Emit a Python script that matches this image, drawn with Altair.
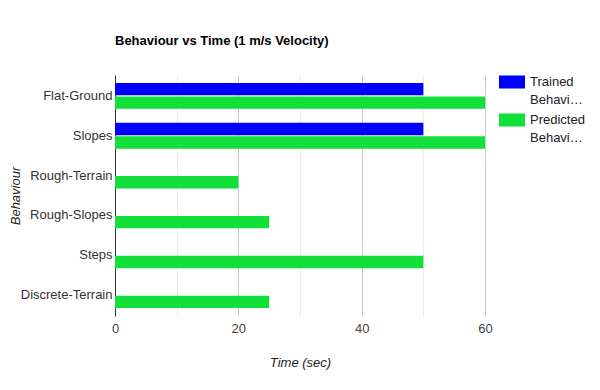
import altair as alt
import pandas as pd

categories = ["Flat-Ground", "Slopes", "Rough-Terrain", "Rough-Slopes", "Steps", "Discrete-Terrain"]
trained = [50, 50, 0, 0, 0, 0]
predicted = [60, 60, 20, 25, 50, 25]
series = ["Trained Behaviour", "Predicted Behaviour"]
colors = ["#0000ff", "#12df3a"]
x_ticks = [0, 10, 20, 30, 40, 50, 60]

rows = []
for c, t, p in zip(categories, trained, predicted):
    rows.append({"Behaviour": c, "Series": series[0], "Time": t})
    rows.append({"Behaviour": c, "Series": series[1], "Time": p})
df = pd.DataFrame(rows)

FONT = "Liberation Sans"

chart = alt.Chart(df).mark_bar().encode(
    x=alt.X(
        "Time:Q",
        scale=alt.Scale(domain=[0, 60], nice=False),
        axis=alt.Axis(
            values=x_ticks,
            title="Time (sec)",
            titleFontStyle="italic",
            titleFontWeight="normal",
            titleFontSize=13,
            titleColor="#222222",
            titleBaseline="middle",
            titleY=46,
            labelFontSize=13,
            labelColor="#444444",
            labelPadding=6,
            labelFlush=False,
            labelExpr="datum.value % 20 === 0 ? datum.label : ''",
            ticks=False,
            tickSize=0,
            domain=False,
            grid=True,
            gridColor={"condition": {"test": "datum.value % 20 === 0", "value": "#cccccc"}, "value": "#ebebeb"},
        ),
    ),
    y=alt.Y(
        "Behaviour:N",
        sort=categories,
        scale=alt.Scale(paddingInner=0.35, paddingOuter=0.2),
        axis=alt.Axis(
            title="Behaviour",
            titleFontStyle="italic",
            titleFontWeight="normal",
            titleFontSize=13,
            titleColor="#222222",
            titleX=-100,
            titleY=120.5,
            titleBaseline="middle",
            labelFontSize=13,
            labelColor="#333333",
            labelPadding=3,
            ticks=False,
            tickSize=0,
            domainColor="#333333",
            grid=False,
        ),
    ),
    yOffset=alt.YOffset("Series:N", sort=series, scale=alt.Scale(paddingInner=0.08)),
    color=alt.Color(
        "Series:N",
        sort=series,
        scale=alt.Scale(domain=series, range=colors),
        legend=alt.Legend(
            title=None,
            orient="none",
            legendX=384,
            legendY=-6,
            padding=0,
            symbolType="M-1,-0.5H1V0.5H-1Z",
            symbolSize=676,
            symbolStrokeWidth=0,
            symbolOpacity=1,
            labelFontSize=13,
            labelColor="#222222",
            labelOffset=5,
            labelBaseline="middle",
            labelExpr="[split(datum.label, ' ')[0], slice(split(datum.label, ' ')[1], 0, 6) + '…']",
            rowPadding=-1,
        ),
    ),
).properties(
    width=370,
    height=241,
    title=alt.TitleParams(
        "Behaviour vs Time (1 m/s Velocity)",
        anchor="start",
        frame="group",
        fontSize=13,
        fontWeight="bold",
        color="#000000",
        baseline="alphabetic",
        offset=11,
    ),
    autosize=alt.AutoSizeParams(type="none"),
    padding={"left": 107, "top": 67, "right": 107, "bottom": 66},
).configure(
    font=FONT,
    style={"guide-label": {"lineHeight": 18}},
).configure_view(stroke=None)

chart.save("out.html", embed_options={"renderer": "svg", "actions": False})
